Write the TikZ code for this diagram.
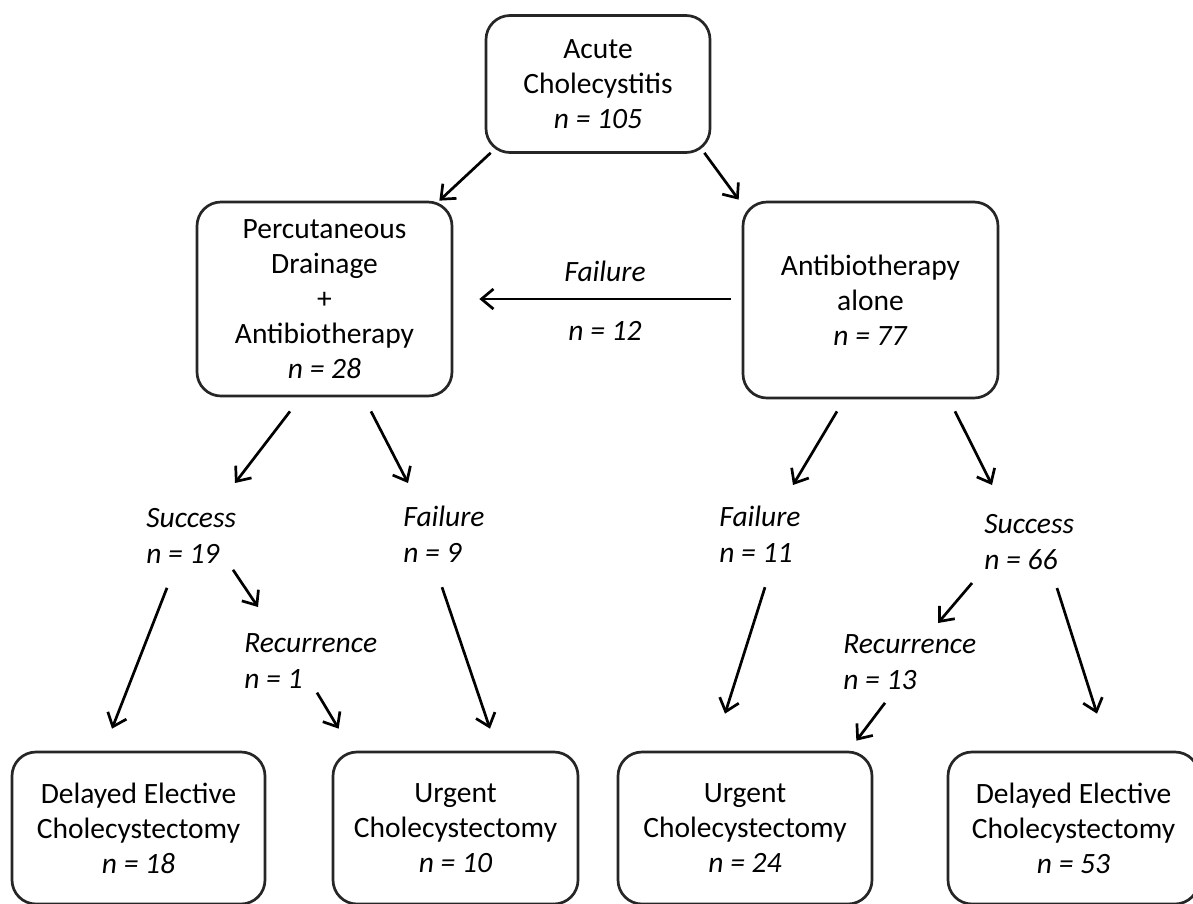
\documentclass[tikz,border=0pt]{standalone}
\usepackage{fontspec}
\setmainfont{Carlito}
\usetikzlibrary{arrows.meta}

\begin{document}
\begin{tikzpicture}[->,>={Straight Barb[length=12pt,width=20pt]},line width=2.7pt,x=1pt,y=-1pt,
    font=\fontsize{29.5}{35}\selectfont,
    box/.style={draw=black!85,rounded corners=24pt,align=center,inner sep=0pt},
    lab/.style={align=left,inner sep=0pt,anchor=north west,font=\fontsize{29.5}{36}\selectfont\itshape},
    elab/.style={inner sep=0pt,font=\fontsize{29.5}{35}\selectfont\itshape}]
                \useasboundingbox (0,0) rectangle (1193,903);
                \clip (0,0) rectangle (1193,903);
                \node[box,minimum width=224pt,minimum height=137pt](acute)at(598, 84){Acute\\Cholecystitis\\\textit{n = 105}};
                \node[box,minimum width=255pt,minimum height=194pt](perc)at(324.5, 299){Percutaneous\\Drainage\\+\\Antibiotherapy\\\textit{n = 28}};
                \node[box,minimum width=255pt,minimum height=196pt](anti)at(870.5, 300){Antibiotherapy\\alone\\\textit{n = 77}};
                % outcome labels
                \node[lab](sucL)at(145, 507){Success\\n = 19};
                \node[lab](faiL)at(402, 505){Failure\\n = 9};
                \node[lab](recL)at(243, 632){Recurrence\\n = 1};
                \node[lab](faiR)at(718, 505){Failure\\n = 11};
                \node[lab](sucR)at(983, 513){Success\\n = 66};
                \node[lab](recR)at(842, 633){Recurrence\\n = 13};
                % surgery
                \node[box,minimum width=253pt,minimum height=152pt](del1)at(138.5, 828){Delayed Elective\\Cholecystectomy\\\textit{n = 18}};
                \node[box,minimum width=245pt,minimum height=152pt](urg1)at(455.5, 828){Urgent\\Cholecystectomy\\\textit{n = 10}};
                \node[box,minimum width=254pt,minimum height=152pt](urg2)at(745, 828){Urgent\\Cholecystectomy\\\textit{n = 24}};
                \node[box,minimum width=251pt,minimum height=152pt](del2)at(1073.5, 828){Delayed Elective\\Cholecystectomy\\\textit{n = 53}};
                \path ([shift={(6,-1)}]acute.south west) edge ([shift={(-14,0)}]perc.north east)
                ([shift={(-7,-1)}]acute.south east) edge ([shift={(-3,-1)}]anti.north west)
                ([shift={(-11,-1)}]anti.west) edge node[elab,above=16pt]{Failure} node[elab,below=21pt]{n = 12} ([shift={(26,0)}]perc.east)
                ([shift={(-34.5,14)}]perc.south) edge ([shift={(90,-24)}]sucL.north west)
                ([shift={(46.5,14)}]perc.south) edge ([shift={(6,-22)}]faiL.north west)
                ([shift={(88,5)}]sucL.south west) edge ([shift={(15,-25)}]recL.north west)
                ([shift={(22,23)}]sucL.south west) edge ([shift={(-26.5,-22)}]del1.north)
                ([shift={(74,3)}]recL.south west) edge ([shift={(7,-22)}]urg1.north west)
                ([shift={(40,23)}]faiL.south west) edge ([shift={(34.5,-22)}]urg1.north)
                ([shift={(-33.5,12)}]anti.south) edge ([shift={(75,-20)}]faiR.north west)
                ([shift={(84.5,12)}]anti.south) edge ([shift={(9,-28)}]sucR.north west)
                ([shift={(-11,12)}]sucR.south west) edge ([shift={(96,-10)}]recR.north west)
                ([shift={(43,12)}]recR.south west) edge ([shift={(-17,-10)}]urg2.north east)
                ([shift={(47,23)}]faiR.south west) edge ([shift={(-20,-37)}]urg2.north)
                ([shift={(74,17)}]sucR.south west) edge ([shift={(23.5,-37)}]del2.north);
            \end{tikzpicture}
\end{document}
